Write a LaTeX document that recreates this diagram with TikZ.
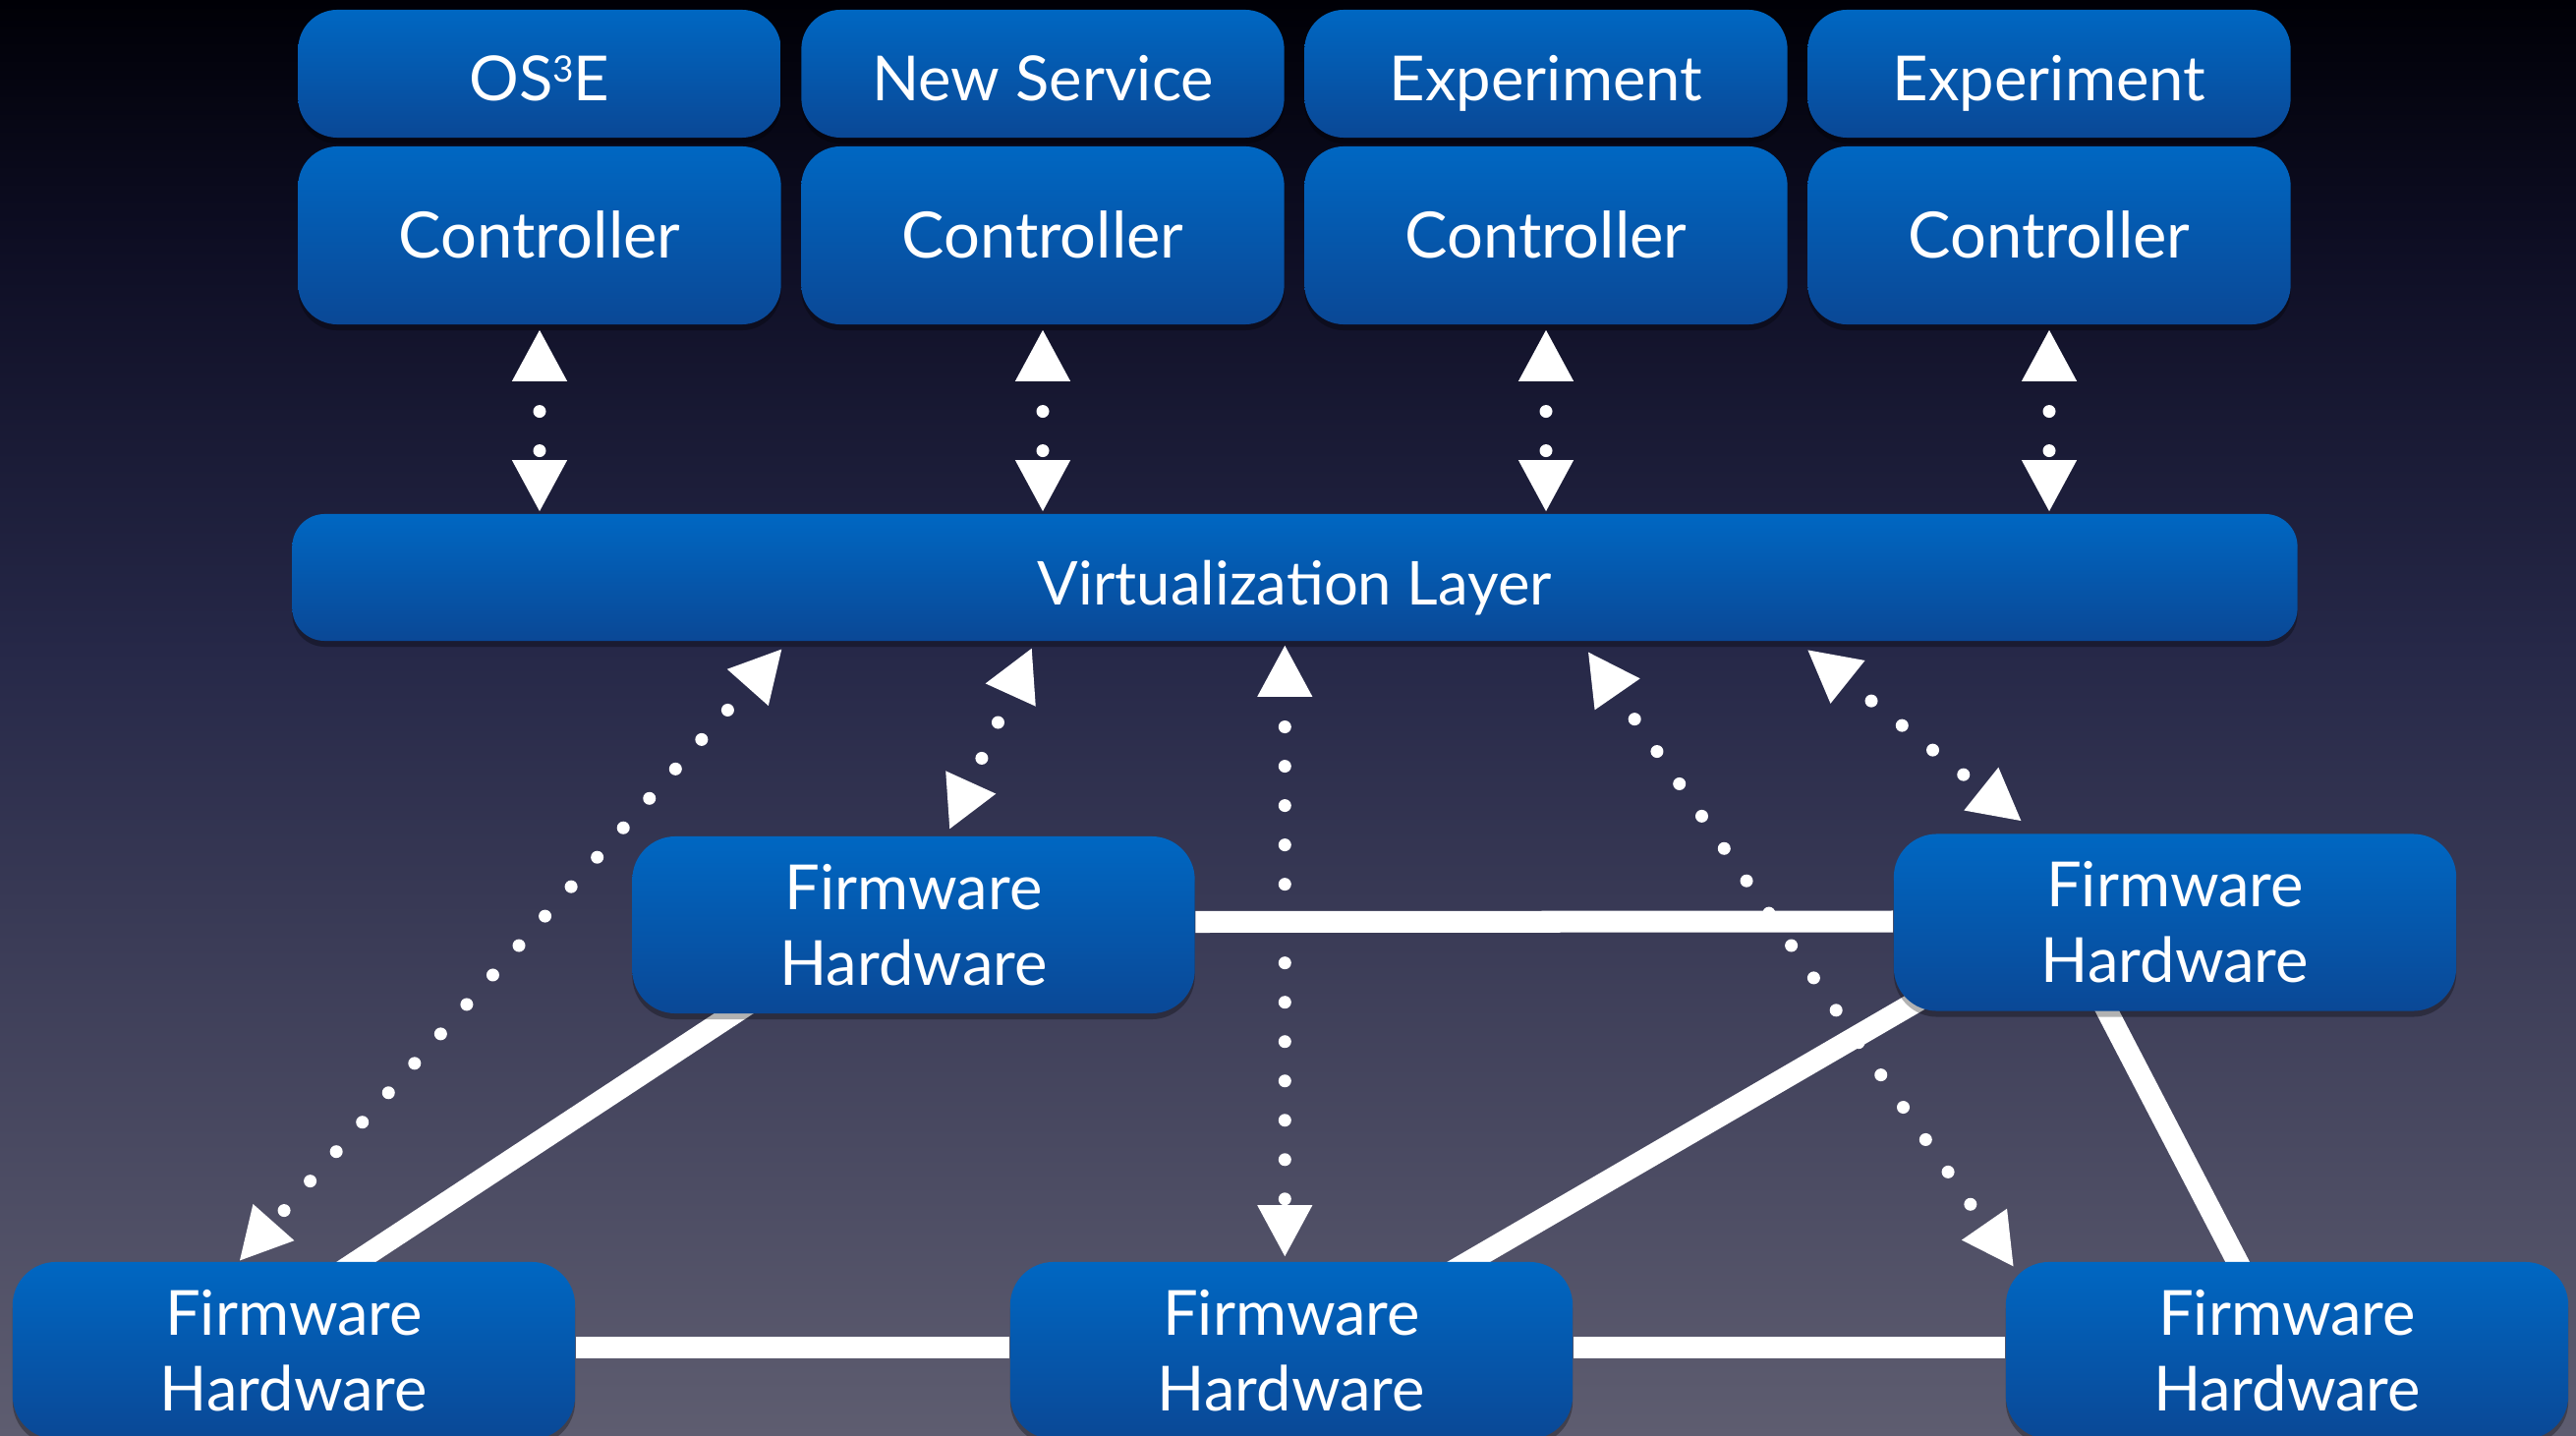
\documentclass[tikz,border=0pt]{standalone}
\usepackage{fontspec}
\setmainfont{Lato}
\usetikzlibrary{arrows.meta,shadows,calc}
\pgfdeclarelayer{background}
\pgfsetlayers{background,main}
\definecolor{boxtop}{RGB}{0,103,194}
\definecolor{boxbot}{RGB}{10,72,150}
\definecolor{bgA}{RGB}{0,0,6}
\definecolor{bgB}{RGB}{14,14,36}
\definecolor{bgC}{RGB}{38,40,72}
\definecolor{bgD}{RGB}{94,93,112}
\newcommand{\supthree}{{\fontsize{10.5pt}{10.5pt}\selectfont\raisebox{5.6pt}{3}}}
\begin{document}
\begin{tikzpicture}[x=0.01cm,y=-0.01cm,
  box/.style={rectangle, rounded corners=0.4cm, top color=boxtop, bottom color=boxbot,
    draw=none, text=white, align=center, inner sep=0pt,
    font=\fontsize{18pt}{22pt}\selectfont,
    drop shadow={shadow xshift=0cm, shadow yshift=-0.06cm, opacity=0.3, fill=black}},
  onebox/.style={box, text height=13pt, text depth=0pt},
  topbox/.style={onebox, minimum width=4.91cm, minimum height=1.30cm, text height=15.8pt},
  ctrlbox/.style={onebox, minimum width=4.91cm, minimum height=1.81cm,
    font=\fontsize{18.5pt}{22pt}\selectfont},
  virtbox/.style={onebox, minimum width=20.39cm, minimum height=1.29cm, rounded corners=0.33cm,
    text height=15.8pt, font=\fontsize{17.5pt}{22pt}\selectfont},
  fwbox/.style={box, minimum width=5.72cm, minimum height=1.80cm, rounded corners=0.44cm,
    font=\fontsize{18pt}{21.9pt}\selectfont},
  link/.style={white, line width=0.22cm},
  diaglink/.style={link, shorten <=-0.3cm, shorten >=-0.3cm},
  dotarrow/.style={white, line width=0.13cm, line cap=round,
    dash pattern=on 0pt off 0.4cm, dash phase=0.06cm,
    {Triangle[length=0.53cm,width=0.52cm]}-{Triangle[length=0.53cm,width=0.52cm]}}
]
\useasboundingbox (0,0) rectangle (2621,1461);
\clip (0,0) rectangle (2621,1461);

% upper boxes
\node[topbox] (t1) at (549,75) {OS\supthree E};
\node[topbox] (t2) at (1061,75) {New Service};
\node[topbox] (t3) at (1573,75) {Experiment};
\node[topbox] (t4) at (2085,75) {Experiment};
\node[ctrlbox] (c1) at (549,239.5) {Controller};
\node[ctrlbox] (c2) at (1061,239.5) {Controller};
\node[ctrlbox] (c3) at (1573,239.5) {Controller};
\node[ctrlbox] (c4) at (2085,239.5) {Controller};

\node[virtbox] (virt) at (1317.5,587.5) {Virtualization Layer};

% firmware/hardware boxes
\node[fwbox] (fh1) at (929.5,941) {Firmware\\Hardware};
\node[fwbox] (fh2) at (2213,938.5) {Firmware\\Hardware};
\node[fwbox] (fh3) at (299,1374) {Firmware\\Hardware};
\node[fwbox] (fh4) at (1314,1374) {Firmware\\Hardware};
\node[fwbox] (fh5) at (2327,1374) {Firmware\\Hardware};

\begin{pgfonlayer}{background}
  \shade[top color=bgA, bottom color=bgB] (0,0) rectangle (2621,251);
  \shade[top color=bgB, bottom color=bgC] (0,250) rectangle (2621,661);
  \shade[top color=bgC, bottom color=bgD] (0,660) rectangle (2621,1461);
  % physical links
  \draw[link] ([yshift=0.03cm]fh1.east) -- ([yshift=0.01cm]fh2.west);
  \draw[link] ([yshift=0.03cm]fh3.east) -- ([yshift=0.03cm]fh4.west);
  \draw[link] ([yshift=0.03cm]fh4.east) -- ([yshift=0.03cm]fh5.west);
  \draw[diaglink] ([xshift=1.03cm]fh1.south west) -- ([xshift=3.51cm]fh3.north west);
  \draw[diaglink] ([shift={(0.20cm,0.08cm)}]fh2.south west) -- ([xshift=4.68cm]fh4.north west);
  \draw[diaglink] ([xshift=2.18cm]fh2.south west) -- ([xshift=2.36cm]fh5.north west);
\end{pgfonlayer}

% controller <-> virtualization
\foreach \c in {c1,c2,c3,c4}{
  \draw[dotarrow] ([yshift=-0.04cm]\c.south) -- ([yshift=0.01cm]\c.south |- virt.north);
}

% virtualization <-> switches
\draw[dotarrow] ([shift={(4.99cm,-0.07cm)}]virt.south west) -- ([xshift=2.31cm]fh3.north west);
\draw[dotarrow] ([shift={(7.53cm,-0.06cm)}]virt.south west) -- ([shift={(3.23cm,0.06cm)}]fh1.north west);
\draw[dotarrow] ([shift={(10.10cm,-0.03cm)}]virt.south west) -- ([shift={(2.80cm,0.04cm)}]fh4.north west);
\draw[dotarrow] ([shift={(13.18cm,-0.10cm)}]virt.south west) -- ([shift={(0.09cm,-0.06cm)}]fh5.north west);
\draw[dotarrow] ([shift={(15.41cm,-0.08cm)}]virt.south west) -- ([shift={(1.31cm,0.12cm)}]fh2.north west);
\end{tikzpicture}
\end{document}
